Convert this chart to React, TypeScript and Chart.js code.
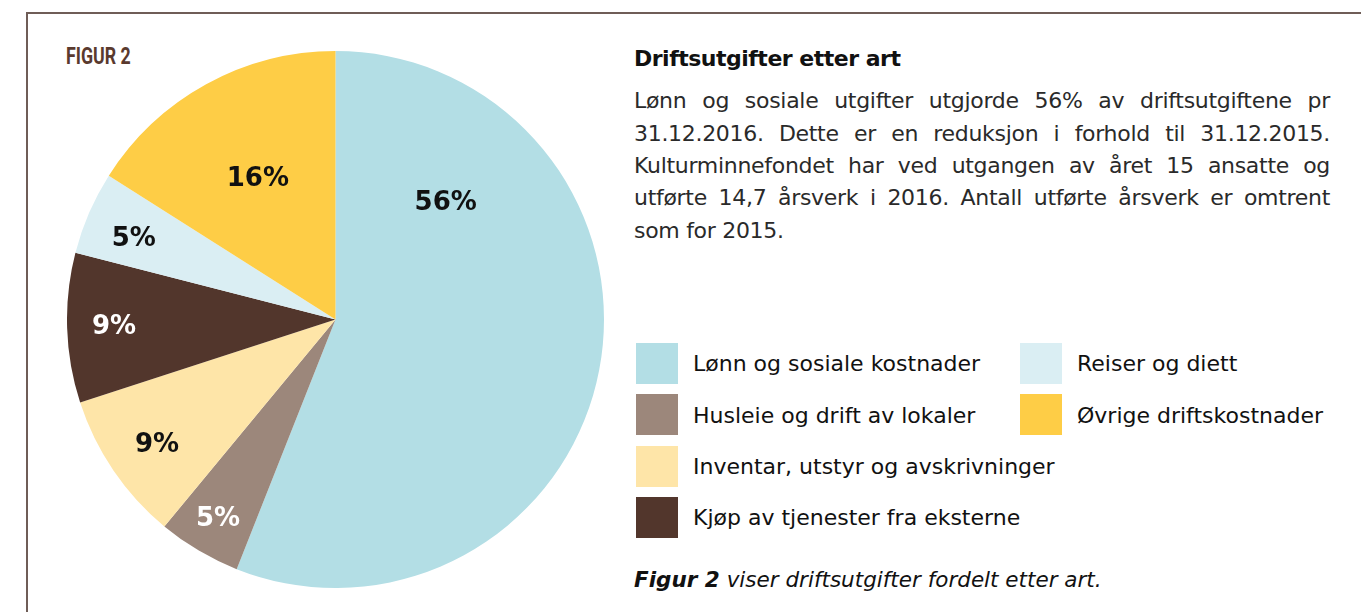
import React, { useEffect, useRef } from "react";
import { Chart, registerables } from "chart.js";

Chart.register(...registerables);

const categories = [
  "Lønn og sosiale kostnader",
  "Husleie og drift av lokaler",
  "Inventar, utstyr og avskrivninger",
  "Kjøp av tjenester fra eksterne",
  "Reiser og diett",
  "Øvrige driftskostnader",
];
const values = [56, 5, 9, 9, 5, 16];
const valueLabels = ["56%", "5%", "9%", "9%", "5%", "16%"];
const colors = ["#b3dee5", "#9c877b", "#fee5a8", "#52362c", "#daeef3", "#fecd46"];
const labelColors = ["#111111", "#ffffff", "#111111", "#ffffff", "#111111", "#111111"];
// legend layout: [column, row] for each category
const legendSlots = [
  [0, 0],
  [0, 1],
  [0, 2],
  [0, 3],
  [1, 0],
  [1, 1],
];
// label placement inside each slice: fraction along slice angle, fraction of radius
const labelPlacement = [
  { t: 0.214, r: 0.6 },
  { t: 0.5, r: 0.86 },
  { t: 0.48, r: 0.81 },
  { t: 0.5, r: 0.825 },
  { t: 0.42, r: 0.81 },
  { t: 0.5, r: 0.6 },
];

const bodyLines = [
  "Lønn og sosiale utgifter utgjorde 56% av driftsutgiftene pr",
  "31.12.2016. Dette er en reduksjon i forhold til 31.12.2015.",
  "Kulturminnefondet har ved utgangen av året 15 ansatte og",
  "utførte 14,7 årsverk i 2016. Antall utførte årsverk er omtrent",
  "som for 2015.",
];

const sliceLabelPlugin = {
  id: "sliceLabels",
  afterDatasetsDraw(chart: any) {
    const ctx = chart.ctx;
    const meta = chart.getDatasetMeta(0);
    ctx.save();
    ctx.font = "bold 26px 'DejaVu Sans'";
    ctx.textAlign = "center";
    ctx.textBaseline = "middle";
    meta.data.forEach((arc: any, i: number) => {
      const p = arc.getProps(["x", "y", "startAngle", "endAngle", "outerRadius"], true);
      const pl = labelPlacement[i];
      const a = p.startAngle + (p.endAngle - p.startAngle) * pl.t;
      const r = p.outerRadius * pl.r;
      ctx.fillStyle = labelColors[i];
      ctx.fillText(valueLabels[i], p.x + Math.cos(a) * r, p.y + Math.sin(a) * r + 1);
    });
    ctx.restore();
  },
};

function PieChart() {
  const ref = useRef<HTMLCanvasElement>(null);
  useEffect(() => {
    if (!ref.current) return;
    const chart = new Chart(ref.current, {
      type: "pie",
      data: {
        labels: categories,
        datasets: [
          {
            data: values,
            backgroundColor: colors,
            borderWidth: 0,
          },
        ],
      },
      options: {
        animation: false,
        responsive: false,
        maintainAspectRatio: false,
        layout: { padding: 0 },
        plugins: {
          legend: { display: false },
          tooltip: { enabled: false },
        },
      },
      plugins: [sliceLabelPlugin],
    });
    return () => chart.destroy();
  }, []);
  return (
    <canvas
      ref={ref}
      width={537}
      height={537}
      style={{ position: "absolute", left: 67, top: 51, width: 537, height: 537 }}
    />
  );
}

export default function App() {
  const frame = "#6f5d57";
  const sans = "'DejaVu Sans', sans-serif";
  return (
    <div
      style={{
        position: "fixed",
        left: 0,
        top: 0,
        width: 1361,
        height: 612,
        background: "#ffffff",
        overflow: "hidden",
        fontFamily: sans,
        color: "#1b1b1b",
      }}
    >
      <div style={{ position: "absolute", left: 26, top: 12, right: -10, height: 1.5, background: frame }} />
      <div style={{ position: "absolute", left: 26, top: 12, bottom: -10, width: 1.5, background: frame }} />
      <div
        style={{
          position: "absolute",
          left: 66,
          top: 42,
          fontFamily: "Roboto, sans-serif",
          fontSize: 24,
          fontWeight: 700,
          color: "#5a3a2e",
          transform: "scaleX(0.74)",
          transformOrigin: "left top",
          whiteSpace: "nowrap",
        }}
      >
        FIGUR 2
      </div>
      <PieChart />
      <div
        style={{
          position: "absolute",
          left: 634,
          top: 44.4,
          fontSize: 22,
          lineHeight: "30px",
          fontWeight: 700,
          letterSpacing: -0.5,
          whiteSpace: "nowrap",
          color: "#111",
        }}
      >
        Driftsutgifter etter art
      </div>
      {bodyLines.map((line, i) => (
        <div
          key={i}
          style={{
            position: "absolute",
            left: 634,
            top: 86.4 + i * 32.3,
            width: 696,
            fontSize: 22,
            lineHeight: "30px",
            letterSpacing: -0.3,
            whiteSpace: "nowrap",
            textAlign: i < 4 ? "justify" : "left",
            textAlignLast: i < 4 ? "justify" : "left",
            color: "#2a2a2a",
          }}
        >
          {line}
        </div>
      ))}
      {categories.map((c, i) => {
        const [col, row] = legendSlots[i];
        const x = 636 + col * 384;
        const y = 343 + row * 51.3;
        return (
          <React.Fragment key={c}>
            <div style={{ position: "absolute", left: x, top: y, width: 42, height: 41, background: colors[i] }} />
            <div
              style={{
                position: "absolute",
                left: x + 57,
                top: y + 6.4,
                fontSize: 22,
                lineHeight: "30px",
                whiteSpace: "nowrap",
                color: "#111",
              }}
            >
              {c}
            </div>
          </React.Fragment>
        );
      })}
      <div
        style={{
          position: "absolute",
          left: 634,
          top: 564.6,
          fontSize: 21.5,
          lineHeight: "30px",
          fontStyle: "italic",
          whiteSpace: "nowrap",
          color: "#111",
        }}
      >
        <span style={{ fontWeight: 700 }}>Figur 2</span> viser driftsutgifter fordelt etter art.
      </div>
    </div>
  );
}
